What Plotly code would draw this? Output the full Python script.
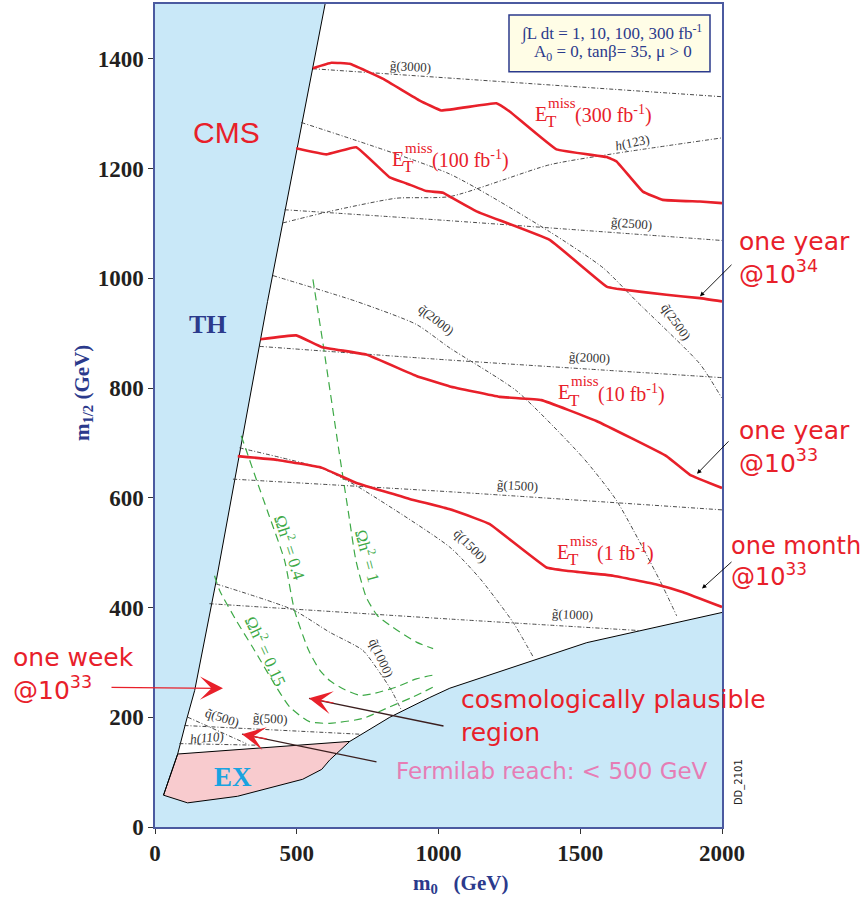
import plotly.graph_objects as go

# ---- region boundaries (m0, m1/2 in GeV) ----
th_m0 = [600, 397, 216, 140, 111, 80, 30]
th_m12 = [1500, 958, 449, 249, 195, 133, 58]

ex_m0 = [80, 687, 616, 588, 521, 291, 115, 30]
ex_m12 = [133, 156, 122, 105, 87, 56, 44, 58]

lsp_m0 = [687, 828, 969, 1040, 1523, 1717, 2000]
lsp_m12 = [156, 200, 236, 253, 336, 358, 391]

# ---- E_T^miss reach curves ----
et300_m0 = [557, 622, 687, 803, 934, 1010, 1204, 1251, 1416, 1593, 1628, 1721, 1791, 1922, 2000]
et300_m12 = [1383, 1393, 1391, 1364, 1324, 1306, 1319, 1304, 1235, 1221, 1213, 1158, 1143, 1140, 1137]
et100_m0 = [498, 604, 710, 828, 887, 957, 1016, 1040, 1134, 1392, 1593, 1628, 1804, 1922, 2000]
et100_m12 = [1237, 1226, 1239, 1184, 1173, 1159, 1156, 1149, 1122, 1070, 985, 981, 970, 964, 958]
et10_m0 = [372, 498, 587, 745, 922, 1040, 1216, 1363, 1557, 1804, 1887, 2000]
et10_m12 = [889, 896, 875, 861, 822, 803, 784, 778, 740, 676, 642, 618]
et1_m0 = [292, 433, 587, 716, 898, 1040, 1128, 1181, 1381, 1451, 1616, 1769, 1863, 2000]
et1_m12 = [676, 669, 655, 626, 598, 579, 563, 552, 473, 467, 458, 442, 428, 401]

# ---- iso-mass contours ----
g3000_m0, g3000_m12 = [557, 2000], [1382, 1331]
g2500_m0, g2500_m12 = [457, 1040, 2000], [1125, 1105, 1069]
g2000_m0, g2000_m12 = [369, 1040, 2000], [876, 851, 819]
g1500_m0, g1500_m12 = [275, 1040, 2000], [634, 611, 578]
g1000_m0, g1000_m12 = [192, 1040, 1710], [407, 379, 358]
g500_m0, g500_m12 = [104, 728], [185, 169]
q2500_m0 = [516, 1040, 1392, 1581, 1699, 1922, 1999]
q2500_m12 = [1284, 1190, 1085, 1019, 958, 844, 782]
q2000_m0 = [416, 710, 922, 1040, 1275, 1510, 1628, 1781, 1840]
q2000_m12 = [1005, 958, 916, 873, 795, 673, 595, 449, 385]
q1500_m0 = [298, 591, 710, 1040, 1146, 1263, 1334]
q1500_m12 = [691, 653, 622, 510, 453, 373, 310]
q1000_m0 = [216, 486, 616, 733, 792, 834, 869]
q1000_m12 = [443, 396, 355, 322, 282, 249, 213]
q500_m0, q500_m12 = [116, 322], [200, 152]
h123_m0 = [451, 616, 851, 1040, 1392, 1628, 2000]
h123_m12 = [1101, 1122, 1146, 1149, 1207, 1228, 1256]
h110_m0, h110_m12 = [86, 369], [152, 149]

# ---- relic density contours ----
om1_m0 = [557, 595, 649, 685, 709, 745, 785, 839, 922, 981]
om1_m12 = [998, 873, 685, 564, 485, 419, 385, 364, 337, 325]
om04_m0 = [304, 325, 359, 400, 457, 492, 542, 581, 616, 663, 722, 769, 851, 922, 993]
om04_m12 = [713, 682, 631, 571, 486, 395, 322, 286, 267, 252, 240, 243, 255, 270, 278]
om015_m0 = [210, 228, 287, 344, 428, 475, 545, 616, 734, 828, 910, 993]
om015_m12 = [458, 431, 376, 328, 255, 219, 192, 189, 198, 219, 237, 258]

x_ticks = [0, 500, 1000, 1500, 2000]
y_ticks = [0, 200, 400, 600, 800, 1000, 1200, 1400]

RED = "#E8202A"
NAVY = "#2B3A8C"
SERIF = "Liberation Serif, Times New Roman, serif"
SANS = "DejaVu Sans, Arial, sans-serif"

W, H = 866, 905
ML, MR, MT, MB = 155, 144, 2, 78
XMAX, YMAX = 2000, 1500
PW = W - ML - MR
PH = H - MT - MB


def paper(px, py):
    # pixel position on the page -> paper coordinates (for annotations)
    return (px - ML) / PW, (H - MB - py) / PH


fig = go.Figure()

# allowed (white) region
allowed_x = th_m0[:6] + lsp_m0 + [XMAX]
allowed_y = th_m12[:6] + lsp_m12 + [YMAX]
fig.add_trace(go.Scatter(x=allowed_x, y=allowed_y, fill="toself", fillcolor="white",
                         mode="none", hoverinfo="skip"))
# EX region
fig.add_trace(go.Scatter(x=ex_m0 + [ex_m0[0]], y=ex_m12 + [ex_m12[0]], fill="toself",
                         fillcolor="#F8CBCE", mode="lines",
                         line=dict(color="black", width=1)))
fig.add_trace(go.Scatter(x=th_m0, y=th_m12, mode="lines", line=dict(color="black", width=1)))
fig.add_trace(go.Scatter(x=lsp_m0, y=lsp_m12, mode="lines", line=dict(color="black", width=1)))

# iso-mass lines
iso = [(g3000_m0, g3000_m12), (g2500_m0, g2500_m12), (g2000_m0, g2000_m12),
       (g1500_m0, g1500_m12), (g1000_m0, g1000_m12), (g500_m0, g500_m12),
       (q2500_m0, q2500_m12), (q2000_m0, q2000_m12), (q1500_m0, q1500_m12),
       (q1000_m0, q1000_m12), (q500_m0, q500_m12), (h123_m0, h123_m12),
       (h110_m0, h110_m12)]
for xs, ys in iso:
    fig.add_trace(go.Scatter(x=xs, y=ys, mode="lines",
                             line=dict(color="#333333", width=0.9, dash="4px,2px,1px,2px",
                                       shape="spline", smoothing=0.6)))

# relic density lines
for xs, ys in [(om1_m0, om1_m12), (om04_m0, om04_m12), (om015_m0, om015_m12)]:
    fig.add_trace(go.Scatter(x=xs, y=ys, mode="lines",
                             line=dict(color="#3DA946", width=1.2, dash="8px,5px",
                                       shape="spline", smoothing=0.6)))

# reach curves
for xs, ys in [(et300_m0, et300_m12), (et100_m0, et100_m12),
               (et10_m0, et10_m12), (et1_m0, et1_m12)]:
    fig.add_trace(go.Scatter(x=xs, y=ys, mode="lines",
                             line=dict(color=RED, width=2.6, shape="spline", smoothing=0.25)))


def note(px, py, text, size, color, family, xanchor="center", **kw):
    x, y = paper(px, py)
    fig.add_annotation(x=x, y=y, xref="paper", yref="paper", text=text, showarrow=False,
                       xanchor=xanchor, yanchor="middle",
                       font=dict(size=size, color=color, family=family), **kw)


def arrow(hx, hy, tx, ty, color, width, head, size):
    x, y = paper(hx, hy)
    fig.add_annotation(x=x, y=y, xref="paper", yref="paper", ax=tx - hx, ay=ty - hy,
                       text="", showarrow=True, arrowhead=head, arrowsize=size,
                       arrowwidth=width, arrowcolor=color,
                       xanchor="center", yanchor="middle")


# legend box
x1, y1 = paper(509, 13)
x2, y2 = paper(710, 70)
fig.add_shape(type="rect", x0=x1, y0=y1, x1=x2, y1=y2, xref="paper", yref="paper",
              fillcolor="#FFFDE6", line=dict(color=NAVY, width=1.5))
note(611, 31, "∫L dt = 1, 10, 100, 300 fb<sup>-1</sup>", 17, NAVY, SERIF)
note(613, 51, "A<sub>0</sub> = 0, tanβ= 35, μ > 0", 17, NAVY, SERIF)

# region names
note(226, 131, "CMS", 30, RED, "Liberation Sans, Arial, sans-serif")
note(208, 323, "<b>TH</b>", 26, NAVY, SERIF)
note(233, 777, "<b>EX</b>", 27, "#1AA3E0", SERIF)


def et_label(px, py, lumi):
    note(px, py, "E", 20, RED, SERIF, xanchor="left")
    note(px + 11, py + 8, "T", 17, RED, SERIF, xanchor="left")
    note(px + 13, py - 11, "miss", 15, RED, SERIF, xanchor="left")
    note(px + 40, py + 1, "(" + lumi + " fb<sup>-1</sup>)", 20, RED, SERIF, xanchor="left")


et_label(533, 112, "300")
et_label(390, 157, "100")
et_label(556, 391, "10")
et_label(555, 551, "1")

# contour labels
iso_labels = [
    (410, 65, "g\u0303(3000)", 3), (632, 141, "<i>h</i>(123)", -12),
    (631, 222, "g\u0303(2500)", 4), (436, 318, "q\u0303(2000)", 38),
    (676, 320, "q\u0303(2500)", 55), (589, 356, "g\u0303(2000)", 3),
    (517, 485, "g\u0303(1500)", 3), (470, 545, "q\u0303(1500)", 45),
    (572, 614, "g\u0303(1000)", 3), (381, 657, "q\u0303(1000)", 65),
    (222, 717, "q\u0303(500)", 18), (270, 718, "g\u0303(500)", 3),
    (207, 737, "<i>h(110)</i>", -5),
]
for px, py, t, ang in iso_labels:
    note(px, py, t, 13, "#333333", SERIF, textangle=ang)

for px, py, t, ang in [(291, 546, "Ωh<sup>2</sup> = 0.4", 72),
                       (369, 555, "Ωh<sup>2</sup> = 1", 75),
                       (266, 650, "Ωh<sup>2</sup> = 0.15", 65)]:
    note(px, py, t, 17, "#3DA946", SERIF, textangle=ang)

# side texts
note(737, 257, "one year<br>@10<sup>34</sup>", 25, RED, SANS, xanchor="left", align="left")
note(737, 446, "one year<br>@10<sup>33</sup>", 25, RED, SANS, xanchor="left", align="left")
note(729, 561, "one month<br>@10<sup>33</sup>", 24, RED, SANS, xanchor="left", align="left")
note(11, 674, "one week<br>@10<sup>33</sup>", 25, RED, SANS, xanchor="left", align="left")
note(459, 716, "cosmologically plausible<br>region", 25, RED, SANS, xanchor="left", align="left")
note(394, 771, "Fermilab reach: &lt; 500 GeV", 23, "#E67DB5", SANS, xanchor="left")
note(739, 782, "DD_2101", 10, "#222222", SANS, textangle=-90)

# arrows
arrow(700, 295, 733, 262, "black", 0.9, 2, 1)
arrow(697, 473, 730, 439, "black", 0.9, 2, 1)
arrow(702, 588, 733, 560, "black", 0.9, 2, 1)
arrow(223, 688, 110, 687, RED, 1.2, 3, 3.2)
arrow(309, 698, 445, 726, "#3B1F1F", 1.3, 0, 1)
arrow(309, 698, 335, 703, RED, 1.2, 3, 3.2)
arrow(242, 734, 378, 762, "#3B1F1F", 1.3, 0, 1)
arrow(242, 734, 268, 739, RED, 1.2, 3, 3.2)

# axis titles
note(83, 392, "<b>m<sub>1/2</sub> (GeV)</b>", 21, NAVY, SERIF, textangle=-90)
note(460, 884, "<b>m<sub>0</sub>\u00a0\u00a0\u00a0(GeV)</b>", 21, NAVY, SERIF)

axis_style = dict(showgrid=False, zeroline=False, showline=True, mirror=True,
                  linecolor="#4B5AA0", linewidth=1.5, ticks="outside", ticklen=5,
                  tickcolor="#333333",
                  tickfont=dict(family=SERIF, size=23, color="#231F20", weight="bold"))
fig.update_xaxes(range=[0, XMAX], tickvals=x_ticks, **axis_style)
fig.update_yaxes(range=[0, YMAX], tickvals=y_ticks, **axis_style)

fig.update_layout(width=W, height=H, margin=dict(l=ML, r=MR, t=MT, b=MB),
                  plot_bgcolor="#C9E8F8", paper_bgcolor="white", showlegend=False)

# the page has a default body margin; drop it so the figure sits at the page corner
fig.write_html("out.html", config={"displayModeBar": False},
               post_script="document.body.style.margin='0px';")
